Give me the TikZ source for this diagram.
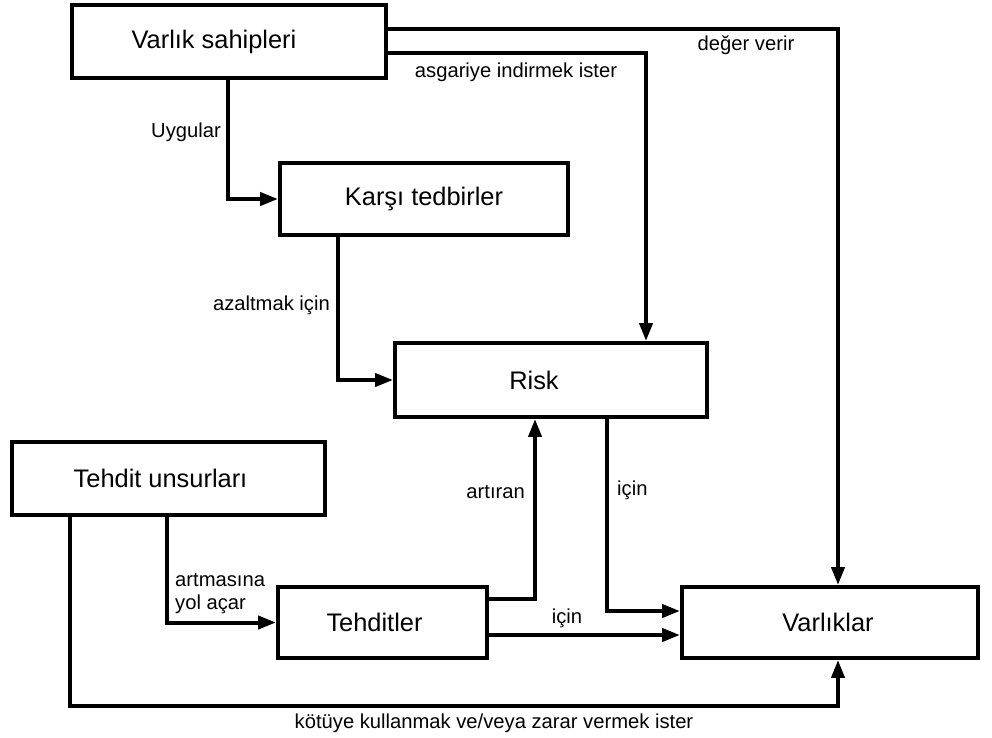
\documentclass[tikz,border=0pt]{standalone}
\usepackage{fontspec}
\setmainfont{Liberation Sans}
\usetikzlibrary{arrows.meta}
\begin{document}
\begin{tikzpicture}[x=1pt,y=-1pt,
  box/.style={draw, line width=3.9pt, inner sep=0pt, fill=white},
  boxtext/.style={font=\fontsize{25.4}{30}\selectfont, inner sep=0pt},
  lbl/.style={font=\fontsize{20.2}{23}\selectfont, inner sep=0pt},
  flow/.style={line width=4pt, -{Triangle[length=18pt,width=13pt]}},
]
\useasboundingbox[fill=white] (0,0) rectangle (992,737);

% boxes
\node[box, minimum width=314pt, minimum height=73pt,
      label={[boxtext,xshift=-15pt]center:Varlık sahipleri}] (own) at (229,41.5) {};
\node[box, minimum width=288pt, minimum height=72pt,
      label={[boxtext]center:Karşı tedbirler}] (cm) at (424,199) {};
\node[box, minimum width=312pt, minimum height=74pt,
      label={[boxtext,xshift=-17pt]center:Risk}] (risk) at (551,380) {};
\node[box, minimum width=313pt, minimum height=73pt,
      label={[boxtext,xshift=-8pt]center:Tehdit unsurları}] (ta) at (168.5,478.5) {};
\node[box, minimum width=209pt, minimum height=71pt,
      label={[boxtext,xshift=-8pt]center:Tehditler}] (thr) at (382.5,622.5) {};
\node[box, minimum width=296pt, minimum height=71pt,
      label={[boxtext,xshift=-2pt]center:Varlıklar}] (assets) at (830,622.5) {};

% connector bends
\coordinate (vx) at (838,29);
\coordinate (ax) at (646,53);
\coordinate (ux) at (228,199);
\coordinate (zx) at (338,381);
\coordinate (rx) at (607,611);
\coordinate (tx) at (535,599);
\coordinate (ix) at (0,635);
\coordinate (yx) at (167,623);
\coordinate (k1) at (70,706);
\coordinate (k2) at (838,706);

% connectors
\draw[flow] (own.east |- vx) -| (assets.north -| vx);
\draw[flow] (own.east |- ax) -| (risk.north -| ax);
\draw[flow] (own.south -| ux) |- (cm.west);
\draw[flow] (cm.south -| zx) |- (risk.west);
\draw[flow] (risk.south -| rx) |- (assets.west |- rx);
\draw[flow] (thr.east |- tx) -| (risk.south -| tx);
\draw[flow] (thr.east |- ix) -- (assets.west |- ix);
\draw[flow] (ta.south -| yx) |- (thr.west);
\draw[flow] (ta.south -| k1) |- (k2) -- (assets.south -| k2);

% connector labels
\node[lbl, anchor=east] (lu) at (221,132) {Uygular};
\node[lbl] (lv) at (746,45) {değer verir};
\node[lbl] (la) at (516,72) {asgariye indirmek ister};
\node[lbl, anchor=east] (lz) at (330,305) {azaltmak için};
\node[lbl, anchor=east] (lt) at (525,492) {artıran};
\node[lbl, anchor=west] (lr) at (617,490) {için};
\node[lbl] (li) at (567,618) {için};
\node[lbl, anchor=west, align=left] (ly) at (175,594) {artmasına\\yol açar};
\node[lbl] (lk) at (494,723) {kötüye kullanmak ve/veya zarar vermek ister};
\end{tikzpicture}
\end{document}
